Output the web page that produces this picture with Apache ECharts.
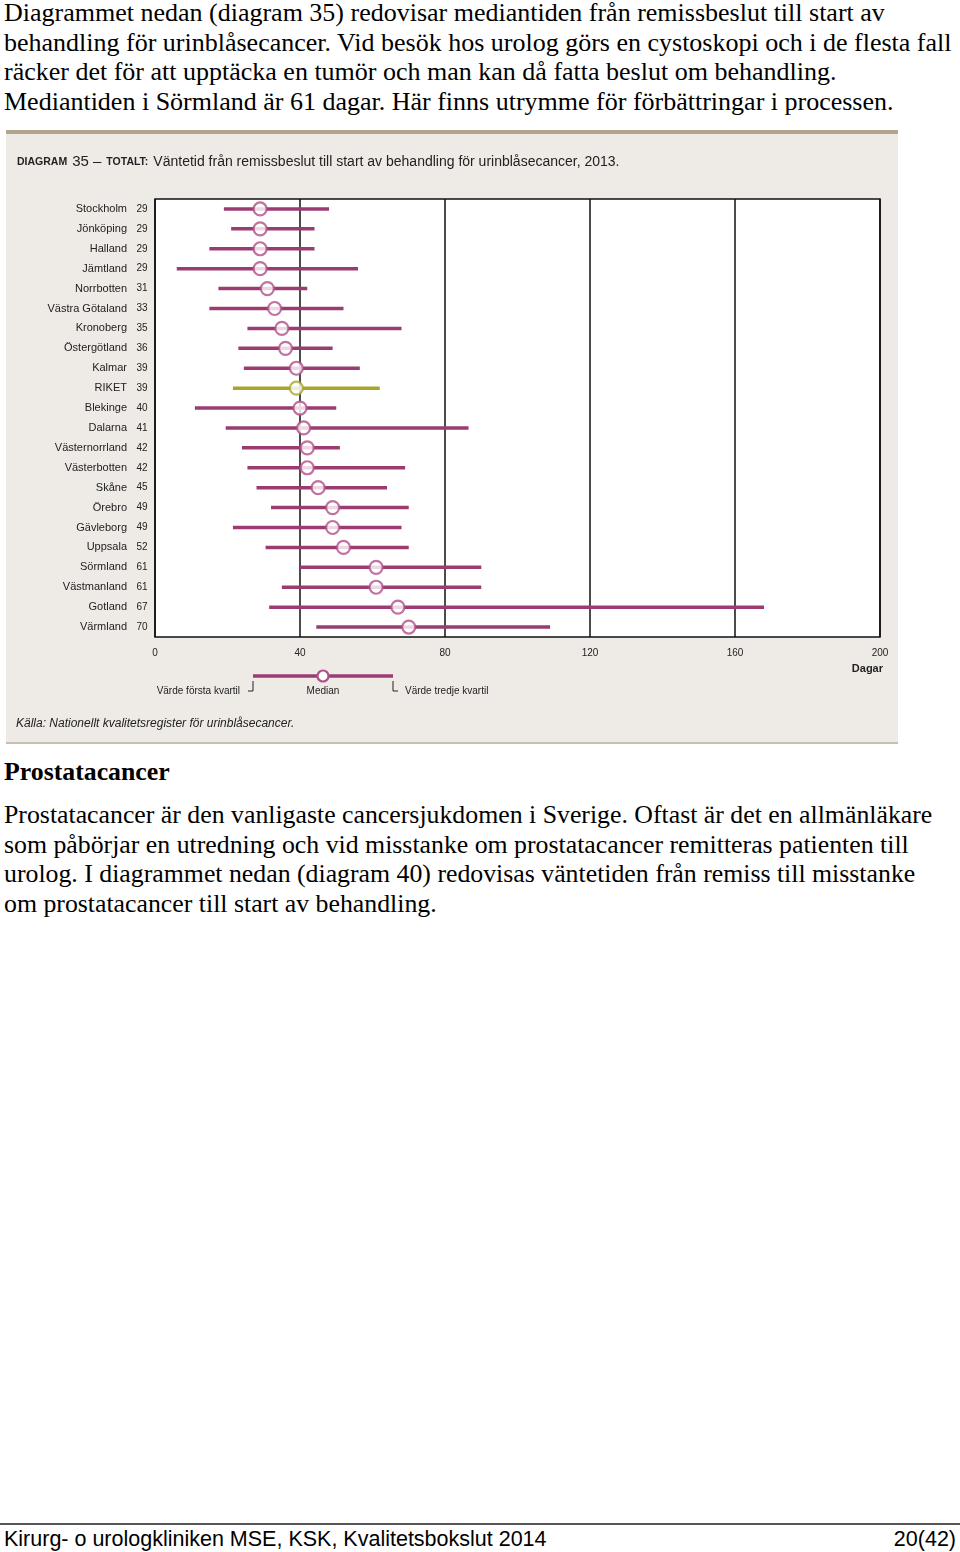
<!DOCTYPE html>
<html>
<head>
<meta charset="utf-8">
<script src="https://cdn.jsdelivr.net/npm/echarts@6/dist/echarts.min.js"></script>
<style>
    html, body { margin: 0; padding: 0; background: #fff; }
    body { width: 960px; height: 1552px; position: relative; overflow: hidden; }
    .serif { position: absolute; left: 4px; font-family: "Liberation Serif", "Times New Roman", serif; white-space: nowrap; color: #000; font-size: 26px; line-height: 30px; }
    .p2 { font-size: 25.8px; }
    #chart { position: absolute; left: 6px; top: 130px; width: 892px; height: 614px; }
    #footer-line { position: absolute; left: 0; top: 1523px; width: 960px; height: 2px; background: #555; }
    .foot { position: absolute; top: 1527px; font-family: "Liberation Sans", Arial, sans-serif; font-size: 21.5px; color: #000; white-space: nowrap; }
</style>
</head>
<body>
<div class="serif" style="top:-2px">Diagrammet nedan (diagram 35) redovisar mediantiden från remissbeslut till start av</div>
<div class="serif" style="top:27.5px">behandling för urinblåsecancer. Vid besök hos urolog görs en cystoskopi och i de flesta fall</div>
<div class="serif" style="top:57px">räcker det för att upptäcka en tumör och man kan då fatta beslut om behandling.</div>
<div class="serif" style="top:86.5px">Mediantiden i Sörmland är 61 dagar. Här finns utrymme för förbättringar i processen.</div>

<div id="chart"></div>

<div class="serif p2" style="top:757px; font-weight:bold;">Prostatacancer</div>
<div class="serif p2" style="top:800px">Prostatacancer är den vanligaste cancersjukdomen i Sverige. Oftast är det en allmänläkare</div>
<div class="serif p2" style="top:829.5px">som påbörjar en utredning och vid misstanke om prostatacancer remitteras patienten till</div>
<div class="serif p2" style="top:859px">urolog. I diagrammet nedan (diagram 40) redovisas väntetiden från remiss till misstanke</div>
<div class="serif p2" style="top:888.5px">om prostatacancer till start av behandling.</div>

<div id="footer-line"></div>
<div class="foot" style="left:4px">Kirurg- o urologkliniken MSE, KSK, Kvalitetsbokslut 2014</div>
<div class="foot" style="right:4px">20(42)</div>

<script>
    const regions = ['Stockholm', 'Jönköping', 'Halland', 'Jämtland', 'Norrbotten', 'Västra Götaland',
        'Kronoberg', 'Östergötland', 'Kalmar', 'RIKET', 'Blekinge', 'Dalarna', 'Västernorrland',
        'Västerbotten', 'Skåne', 'Örebro', 'Gävleborg', 'Uppsala', 'Sörmland', 'Västmanland',
        'Gotland', 'Värmland'];
    const median = [29, 29, 29, 29, 31, 33, 35, 36, 39, 39, 40, 41, 42, 42, 45, 49, 49, 52, 61, 61, 67, 70];
    const firstQuartile = [19, 21, 15, 6, 17.5, 15, 25.5, 23, 24.5, 21.5, 11, 19.5, 24, 25.5, 28, 32, 21.5, 30.5, 40, 35, 31.5, 44.5];
    const thirdQuartile = [48, 44, 44, 56, 42, 52, 68, 49, 56.5, 62, 50, 86.5, 51, 69, 64, 70, 68, 70, 90, 90, 168, 109];
    const xTicks = [0, 40, 80, 120, 160, 200];

    const FONT = '"Liberation Sans Narrow", "Liberation Sans", Arial, sans-serif';
    const INK = '#222';
    const PURPLE = '#9a3c72';
    const RING = '#b04f88';
    const OLIVE = '#a7a52c';

    const colorOf = i => regions[i] === 'RIKET' ? OLIVE : PURPLE;

    const chart = echarts.init(document.getElementById('chart'));
    chart.setOption({
        animation: false,
        backgroundColor: '#eeeae5',
        title: {
            left: 6,
            top: 18,
            text: '{a|DIAGRAM} {b|35 –} {a|TOTALT:} {c|Väntetid från remissbeslut till start av behandling för urinblåsecancer, 2013.}',
            textStyle: {
                rich: {
                    a: { fontFamily: FONT, fontSize: 10.5, fontWeight: 'bold', color: INK },
                    b: { fontFamily: FONT, fontSize: 15, fontWeight: 'normal', color: INK },
                    c: { fontFamily: FONT, fontSize: 14, fontWeight: 'normal', color: INK }
                }
            }
        },
        grid: {
            left: 149,
            top: 69,
            width: 725,
            height: 438,
            show: true,
            backgroundColor: '#fff',
            borderColor: '#111',
            borderWidth: 1.5
        },
        xAxis: {
            type: 'value',
            min: 0,
            max: 200,
            interval: 40,
            axisLine: { show: false },
            axisTick: { show: false },
            splitLine: { lineStyle: { color: '#111', width: 1.5 } },
            axisLabel: {
                margin: 11,
                fontFamily: FONT,
                fontSize: 10,
                color: INK,
                formatter: v => xTicks.includes(v) ? String(v) : ''
            }
        },
        yAxis: {
            type: 'category',
            inverse: true,
            data: regions,
            axisLine: { show: false },
            axisTick: { show: false },
            axisLabel: {
                margin: 7,
                formatter: (name, i) => '{n|' + name + '}{v|' + median[i] + '}',
                rich: {
                    n: { fontFamily: FONT, fontSize: 11, color: INK, padding: [0, 9, 0, 0] },
                    v: { fontFamily: FONT, fontSize: 10, color: INK, width: 12, align: 'left' }
                }
            }
        },
        series: [{
            type: 'custom',
            z: 2,
            data: regions.map((r, i) => [i, firstQuartile[i], thirdQuartile[i]]),
            renderItem(params, api) {
                const i = api.value(0);
                const a = api.coord([api.value(1), i]);
                const b = api.coord([api.value(2), i]);
                return {
                    type: 'line',
                    shape: { x1: a[0], y1: a[1], x2: b[0], y2: b[1] },
                    style: { stroke: colorOf(i), lineWidth: 3.5 }
                };
            }
        }, {
            type: 'scatter',
            z: 3,
            symbol: 'circle',
            symbolSize: 13,
            data: median.map((m, i) => ({
                value: [m, i],
                itemStyle: {
                    color: '#fff',
                    borderColor: regions[i] === 'RIKET' ? OLIVE : RING,
                    borderWidth: 2.2
                }
            }))
        }],
        graphic: [
            { type: 'text', right: 15, top: 533, style: { text: 'Dagar', font: 'bold 11px ' + FONT, fill: INK } },
            { type: 'line', shape: { x1: 247, y1: 546, x2: 387, y2: 546 }, style: { stroke: PURPLE, lineWidth: 3.5 } },
            { type: 'circle', shape: { cx: 317, cy: 546, r: 5.5 }, style: { fill: '#fff', stroke: RING, lineWidth: 2.2 } },
            { type: 'polyline', shape: { points: [[247, 551], [247, 561], [242, 561]] }, style: { stroke: INK, lineWidth: 1 } },
            { type: 'polyline', shape: { points: [[387, 551], [387, 561], [392, 561]] }, style: { stroke: INK, lineWidth: 1 } },
            { type: 'text', x: 234, y: 561, style: { text: 'Värde första kvartil', font: '10px ' + FONT, fill: INK, align: 'right', verticalAlign: 'middle' } },
            { type: 'text', x: 317, y: 561, style: { text: 'Median', font: '10px ' + FONT, fill: INK, align: 'center', verticalAlign: 'middle' } },
            { type: 'text', x: 399, y: 561, style: { text: 'Värde tredje kvartil', font: '10px ' + FONT, fill: INK, align: 'left', verticalAlign: 'middle' } },
            { type: 'text', x: 10, y: 594, style: { text: 'Källa: Nationellt kvalitetsregister för urinblåsecancer.', font: 'italic 12px ' + FONT, fill: INK, verticalAlign: 'middle' } },
            { type: 'rect', shape: { x: 0, y: 0, width: 892, height: 4 }, style: { fill: '#b3a38f' } },
            { type: 'rect', shape: { x: 0, y: 612, width: 892, height: 2 }, style: { fill: '#c9beb2' } }
        ]
    });
</script>
</body>
</html>
